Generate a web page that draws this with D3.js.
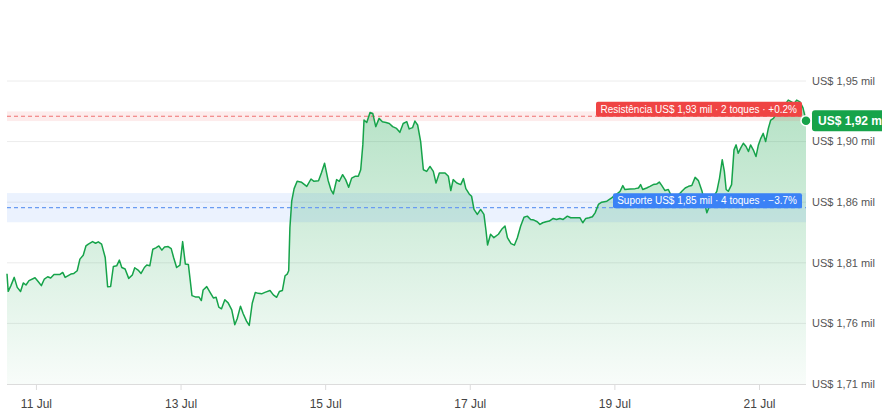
<!DOCTYPE html>
<html><head><meta charset="utf-8">
<script src="https://cdn.jsdelivr.net/npm/d3@7"></script>
<style>
html,body{margin:0;padding:0;background:#fff;}
svg{display:block;font-family:"Liberation Sans",Arial,Helvetica,sans-serif;}
</style></head>
<body>
<svg id="chart" width="882" height="420"></svg>
<script>
// hours since 11 Jul 00:00
const hours = [-9.6,-9.2,-8.3,-7.2,-6.2,-5.1,-4.2,-3.3,-2.3,-0.3,0.8,1.8,2.8,3.9,4.9,6.0,8.0,8.9,9.7,11.6,12.6,13.7,14.6,15.7,16.6,17.4,18.8,19.8,20.7,21.8,23.0,23.8,24.8,25.7,26.8,27.7,28.5,29.6,30.8,32.0,32.8,33.9,34.9,36.0,36.8,37.8,38.8,39.8,40.8,41.8,42.7,43.9,44.9,45.7,46.7,47.8,48.7,49.6,50.6,51.8,52.9,54.1,54.9,55.5,56.7,57.8,58.9,59.8,60.7,61.6,62.7,63.8,65.0,66.0,66.8,67.9,68.8,69.9,70.8,71.8,72.8,73.8,74.9,76.0,77.7,78.8,79.9,80.8,81.8,82.7,83.4,83.9,84.3,84.9,85.7,86.7,88.2,89.9,91.3,92.3,93.8,94.8,95.8,97.0,97.9,98.7,99.8,100.7,101.8,102.8,103.8,104.8,105.9,107.0,107.8,108.5,108.9,109.8,110.9,111.8,112.8,113.9,115.0,116.2,117.3,118.4,119.7,120.8,121.9,123.1,123.9,125.0,125.8,126.7,127.7,128.6,129.7,130.8,131.9,132.8,133.9,135.8,136.9,137.7,138.5,139.7,141.0,141.9,142.7,143.8,144.6,145.4,146.5,147.6,148.7,149.4,149.9,150.9,152.0,153.5,154.6,155.7,156.5,157.7,158.8,159.8,160.9,162.0,163.1,164.2,165.3,166.4,167.3,168.2,169.3,170.4,171.7,172.8,173.9,175.0,176.4,177.5,178.9,180.6,181.5,182.5,183.6,184.7,185.6,186.7,187.8,189.5,191.1,192.5,193.9,194.8,195.5,197.2,198.9,200.0,200.7,201.4,202.7,203.8,204.9,206.0,206.9,207.7,208.8,209.9,210.8,212.2,213.5,214.4,215.5,216.6,217.7,218.8,219.9,221.1,221.8,222.7,223.8,224.8,226.0,226.9,227.8,228.5,229.1,229.8,230.9,231.7,232.4,233.1,233.9,234.8,235.7,236.5,237.2,238.1,239.0,239.8,240.6,241.4,242.2,243.1,243.9,244.8,245.9,247.0,248.3,249.7,250.8,251.6,252.5,253.6,254.6,255.6];
const prices = [1800.0,1786.1,1790.6,1797.1,1789.2,1785.9,1792.7,1791.1,1794.5,1796.8,1793.7,1790.6,1795.8,1797.6,1796.6,1799.4,1799.4,1801.0,1797.1,1799.7,1800.2,1802.3,1811.5,1814.6,1821.9,1823.3,1825.3,1824.0,1825.1,1823.3,1812.8,1789.8,1790.0,1805.7,1806.2,1810.7,1804.9,1803.7,1796.3,1799.0,1804.7,1802.9,1800.2,1804.9,1806.8,1806.2,1819.3,1820.4,1821.9,1818.6,1821.1,1821.4,1819.8,1812.8,1804.9,1806.8,1825.3,1807.6,1807.3,1782.7,1781.7,1781.7,1778.8,1787.2,1789.8,1785.3,1780.9,1781.4,1773.6,1772.3,1779.4,1777.0,1771.5,1759.8,1764.5,1774.4,1768.4,1762.6,1759.2,1776.7,1785.1,1784.5,1784.1,1785.3,1786.7,1783.3,1781.4,1785.9,1786.7,1798.4,1799.7,1802.3,1836.3,1857.2,1867.1,1872.9,1872.1,1868.9,1874.7,1872.9,1873.4,1879.9,1887.2,1873.4,1866.4,1862.9,1874.2,1872.9,1878.1,1874.2,1868.2,1875.4,1876.8,1876.8,1882.0,1901.6,1921.2,1919.3,1927.2,1926.4,1916.0,1922.5,1919.9,1919.3,1918.5,1916.0,1914.6,1911.5,1918.5,1919.9,1914.2,1915.2,1920.4,1917.3,1904.2,1882.0,1880.7,1884.6,1880.7,1871.5,1879.4,1879.4,1876.8,1865.6,1874.2,1871.5,1870.3,1875.0,1867.1,1862.9,1861.1,1850.7,1846.8,1850.7,1846.8,1833.7,1822.7,1831.1,1828.4,1831.1,1835.0,1837.6,1828.4,1823.7,1822.5,1828.4,1837.6,1844.6,1845.4,1842.8,1842.3,1841.0,1838.9,1840.2,1841.0,1841.5,1843.6,1842.8,1843.6,1842.8,1845.4,1844.1,1844.1,1844.1,1840.2,1843.6,1844.1,1844.9,1848.0,1854.6,1856.4,1857.2,1859.8,1862.3,1865.0,1869.5,1866.4,1866.8,1867.1,1867.6,1870.3,1866.4,1867.6,1868.9,1870.3,1870.7,1872.3,1869.7,1865.6,1866.4,1861.9,1860.3,1862.7,1865.0,1867.6,1868.9,1869.5,1876.0,1873.4,1865.0,1857.2,1848.0,1854.8,1860.3,1865.0,1875.4,1889.9,1880.7,1866.4,1865.0,1870.3,1897.7,1901.6,1895.0,1899.0,1902.9,1900.3,1896.4,1901.6,1897.7,1892.4,1901.6,1906.8,1910.7,1904.2,1914.6,1921.2,1922.5,1926.4,1929.3,1932.4,1936.9,1935.5,1934.0,1936.9,1935.5,1930.8,1920.7];

const yTicks = [1713, 1760.8, 1808.6, 1856.4, 1904.2, 1952];
const xTickDays = [11, 13, 15, 17, 19, 21];
const monthLabel = "Jul";

const resistance = {price: 1924.2, band: 3.8, label: "Resistência US$ 1,93 mil · 2 toques · +0.2%"};
const support = {price: 1852.1, band: 11.5, label: "Suporte US$ 1,85 mil · 4 toques · −3.7%"};
const currentLabel = "US$ 1,92 mil";

const base = new Date(2025, 6, 11, 0, 0);
const toDate = h => new Date(base.getTime() + h * 3600000);
const data = hours.map((h, i) => ({d: toDate(h), v: prices[i]}));

const L = 7, R = 806;
const svg = d3.select("#chart");
const x = d3.scaleTime().domain([data[0].d, data[data.length - 1].d]).range([L, R]);
const y = d3.scaleLinear().domain([1713, 1952]).range([384, 81]);

const fmt = v => "US$ " + (v / 1000).toFixed(2).replace(".", ",") + " mil";

// gradient
const defs = svg.append("defs");
const g = defs.append("linearGradient").attr("id", "areaGrad")
  .attr("gradientUnits", "userSpaceOnUse").attr("x1", 0).attr("x2", 0)
  .attr("y1", y(1937)).attr("y2", y(1713));
g.append("stop").attr("offset", "0%").attr("stop-color", "#16a34a").attr("stop-opacity", 0.32);
g.append("stop").attr("offset", "100%").attr("stop-color", "#16a34a").attr("stop-opacity", 0.03);

// grid
svg.append("g").selectAll("line").data(yTicks.slice(1)).join("line")
  .attr("x1", L).attr("x2", R).attr("y1", d => y(d)).attr("y2", d => y(d))
  .attr("stroke", "#ececec").attr("stroke-width", 1);

// right axis labels
svg.append("g").selectAll("text").data(yTicks).join("text")
  .attr("x", 812).attr("y", d => y(d)).attr("dy", "0.35em")
  .attr("font-size", 11).attr("fill", "#555").text(fmt);

// x axis
const xAxis = d3.axisBottom(x)
  .tickValues(xTickDays.map(d => new Date(2025, 6, d)))
  .tickFormat(d => d.getDate() + " " + monthLabel)
  .tickSize(6).tickPadding(9);
const ax = svg.append("g").attr("transform", "translate(0,384)").call(xAxis);
ax.select(".domain").attr("stroke", "#dcdcdc").attr("d", `M${L},0.5H${R}`);
ax.selectAll(".tick line").attr("stroke", "#dcdcdc");
ax.selectAll(".tick text").attr("font-size", 12).attr("fill", "#444")
  .attr("font-family", '"Liberation Sans",Arial,sans-serif');

// area
const area = d3.area().x(d => x(d.d)).y0(y(1713)).y1(d => y(d.v));
svg.append("path").datum(data).attr("d", area).attr("fill", "url(#areaGrad)");

// level bands & lines
function bandAndLine(lv, fillCol, lineCol) {
  svg.append("rect").attr("x", L).attr("width", R - L)
    .attr("y", y(lv.price + lv.band)).attr("height", y(lv.price - lv.band) - y(lv.price + lv.band))
    .attr("fill", fillCol);
  svg.append("line").attr("x1", L).attr("x2", R)
    .attr("y1", y(lv.price)).attr("y2", y(lv.price))
    .attr("stroke", lineCol).attr("stroke-width", 1.2).attr("stroke-dasharray", "4,3");
}
bandAndLine(resistance, "rgba(239,68,68,0.10)", "#f07070");
bandAndLine(support, "rgba(59,130,246,0.10)", "#6a9cf2");

// price line
const line = d3.line().x(d => x(d.d)).y(d => y(d.v));
svg.append("path").datum(data).attr("d", line).attr("fill", "none")
  .attr("stroke", "#16a34a").attr("stroke-width", 1.5).attr("stroke-linejoin", "round");

// level labels
function levelLabel(lv, col, w) {
  const yl = y(lv.price);
  svg.append("rect").attr("x", 802 - w).attr("y", yl - 14.5).attr("width", w).attr("height", 15)
    .attr("rx", 2).attr("fill", col);
  svg.append("text").attr("x", 797).attr("y", yl - 7).attr("dy", "0.35em")
    .attr("text-anchor", "end").attr("font-size", 10).attr("fill", "#fff").text(lv.label);
}
levelLabel(resistance, "#ef4444", 206);
levelLabel(support, "#3b82f6", 189);

// current price
const last = data[data.length - 1];
svg.append("rect").attr("x", 812).attr("y", y(last.v) - 10.5).attr("width", 90).attr("height", 21)
  .attr("rx", 3).attr("fill", "#16a34a");
svg.append("text").attr("x", 818).attr("y", y(last.v)).attr("dy", "0.35em")
  .attr("font-size", 12).attr("font-weight", "bold").attr("fill", "#fff").text(currentLabel);
svg.append("circle").attr("cx", x(last.d)).attr("cy", y(last.v)).attr("r", 5)
  .attr("fill", "#16a34a").attr("stroke", "#fff").attr("stroke-width", 1.5);
</script>
</body></html>
